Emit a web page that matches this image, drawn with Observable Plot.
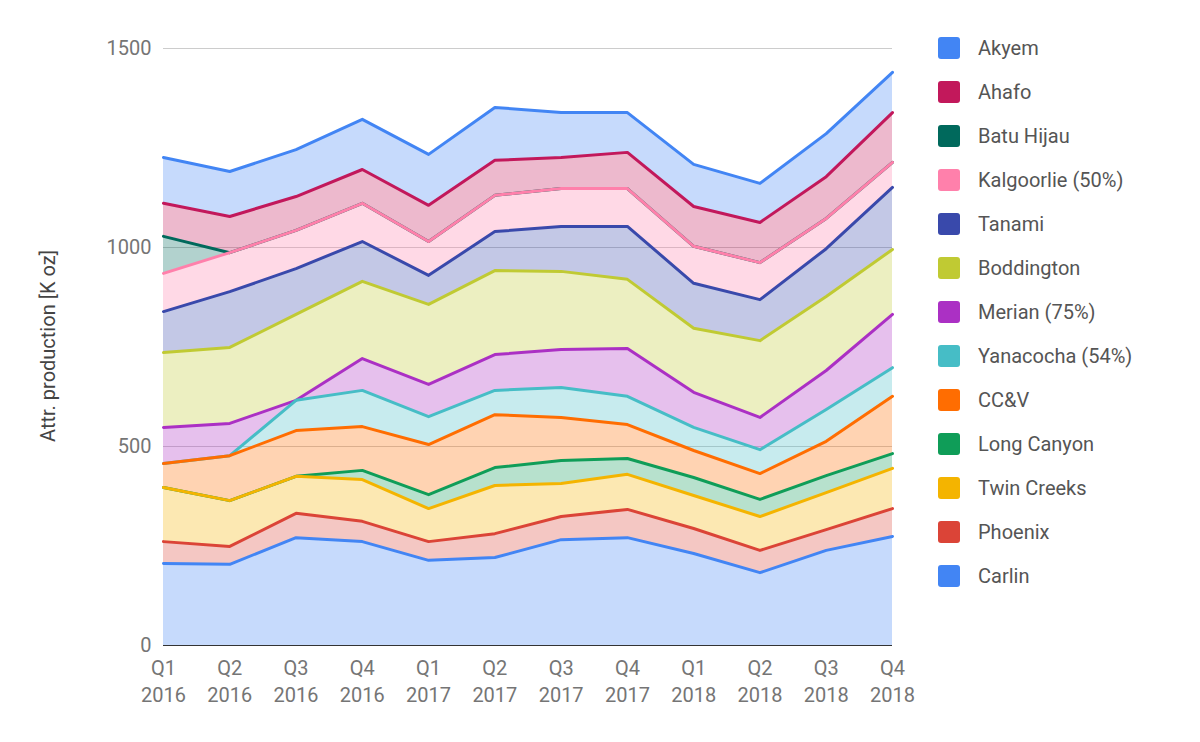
<!DOCTYPE html>
<html><head><meta charset="utf-8">
<script src="https://cdn.jsdelivr.net/npm/d3@7"></script>
<script src="https://cdn.jsdelivr.net/npm/@observablehq/plot@0.6"></script>
<style>
body{margin:0;background:#fff;font-family:Roboto,sans-serif}
#wrap{position:relative;width:1200px;height:742px}
#legend{position:absolute;left:938px;top:26px}
.it{display:flex;align-items:center;height:44px;font-size:20px;color:#555}
.sw{width:22px;height:22px;border-radius:3px;margin-right:18px}
#ylab{position:absolute;left:48px;top:346px;transform:translate(-50%,-50%) rotate(-90deg);font-size:20px;color:#444;white-space:nowrap}
</style></head><body><div id="wrap"><div id="chart"></div><div id="legend"></div><div id="ylab">Attr. production [K oz]</div></div>
<script>
const quarters=["Q1\n2016","Q2\n2016","Q3\n2016","Q4\n2016","Q1\n2017","Q2\n2017","Q3\n2017","Q4\n2017","Q1\n2018","Q2\n2018","Q3\n2018","Q4\n2018"];
const seriesNames=["Carlin","Phoenix","Twin Creeks","Long Canyon","CC&V","Yanacocha (54%)","Merian (75%)","Boddington","Tanami","Kalgoorlie (50%)","Batu Hijau","Ahafo","Akyem"];
const colors=["#4285f4","#db4437","#f4b400","#0f9d58","#ff6d01","#46bdc6","#ab30c4","#c0ca33","#3949ab","#ff80ab","#00695c","#c2185b","#4285f4"];
const carlin=[206,204,271,261,214,221,266,271,231,183,239,274];
const phoenix=[55,45,61,51,47,60,58,71,63,56,52,70];
const twinCreeks=[136,115,93,105,83,121,83,88,83,85,93,101];
const longCanyon=[0,0,0,23,35,45,58,40,45,43,43,37];
const ccv=[60,113,115,110,126,133,108,85,68,65,86,144];
const yanacocha=[0,0,76,91,70,61,75,71,58,60,80,72];
const merian=[91,81,0,80,81,90,96,120,88,81,98,134];
const boddington=[188,191,216,194,201,211,196,174,161,193,186,163];
const tanami=[103,140,115,100,73,98,113,133,113,103,120,156];
const kalgoorlie=[96,98,96,96,85,91,95,95,93,93,76,63];
const batuHijau=[93,0,0,0,0,0,0,0,0,0,0,0];
const ahafo=[83,91,85,85,91,88,78,91,100,101,105,125];
const akyem=[115,113,118,126,128,133,113,100,106,98,108,101];
const vals=[carlin,phoenix,twinCreeks,longCanyon,ccv,yanacocha,merian,boddington,tanami,kalgoorlie,batuHijau,ahafo,akyem];
const data=[];
seriesNames.forEach((s,i)=>vals[i].forEach((v,j)=>data.push({s,x:j,y:v})));
const lineData=data.slice().reverse().sort((a,b)=>seriesNames.indexOf(b.s)-seriesNames.indexOf(a.s)||a.x-b.x);
const opts={x:"x",y:"y",z:"s",order:seriesNames};
const col=d=>colors[seriesNames.indexOf(d.s)];
const chart=Plot.plot({
 width:920,height:742,marginLeft:163,marginRight:28,marginTop:48,marginBottom:97,
 style:{fontFamily:"Roboto,sans-serif",fontSize:"20px",color:"#757575"},
 x:{domain:[0,11]},
 y:{domain:[0,1500]},
 color:{type:"identity"},
 marks:[
  Plot.gridY([500,1000,1500],{stroke:"#ccc",strokeOpacity:1}),
  Plot.areaY(data,Plot.stackY({...opts,fill:col,fillOpacity:0.3})),
  Plot.lineY(lineData,Plot.stackY2({...opts,stroke:col,strokeWidth:3})),
  Plot.ruleY([0],{stroke:"#333"}),
  Plot.axisX({ticks:d3.range(12),tickFormat:i=>quarters[i],tickSize:0,tickPadding:10,label:null,lineHeight:1.35,fontSize:20}),
  Plot.axisY({ticks:[0,500,1000,1500],tickFormat:d=>String(d),tickSize:0,tickPadding:12,label:null,fontSize:20})
 ]
});
document.getElementById("chart").appendChild(chart);
const lg=document.getElementById("legend");
for(let i=seriesNames.length-1;i>=0;i--){
 lg.insertAdjacentHTML("beforeend",`<div class="it"><div class="sw" style="background:${colors[i]}"></div>${seriesNames[i].replace("&","&amp;")}</div>`);
}
</script></body></html>
